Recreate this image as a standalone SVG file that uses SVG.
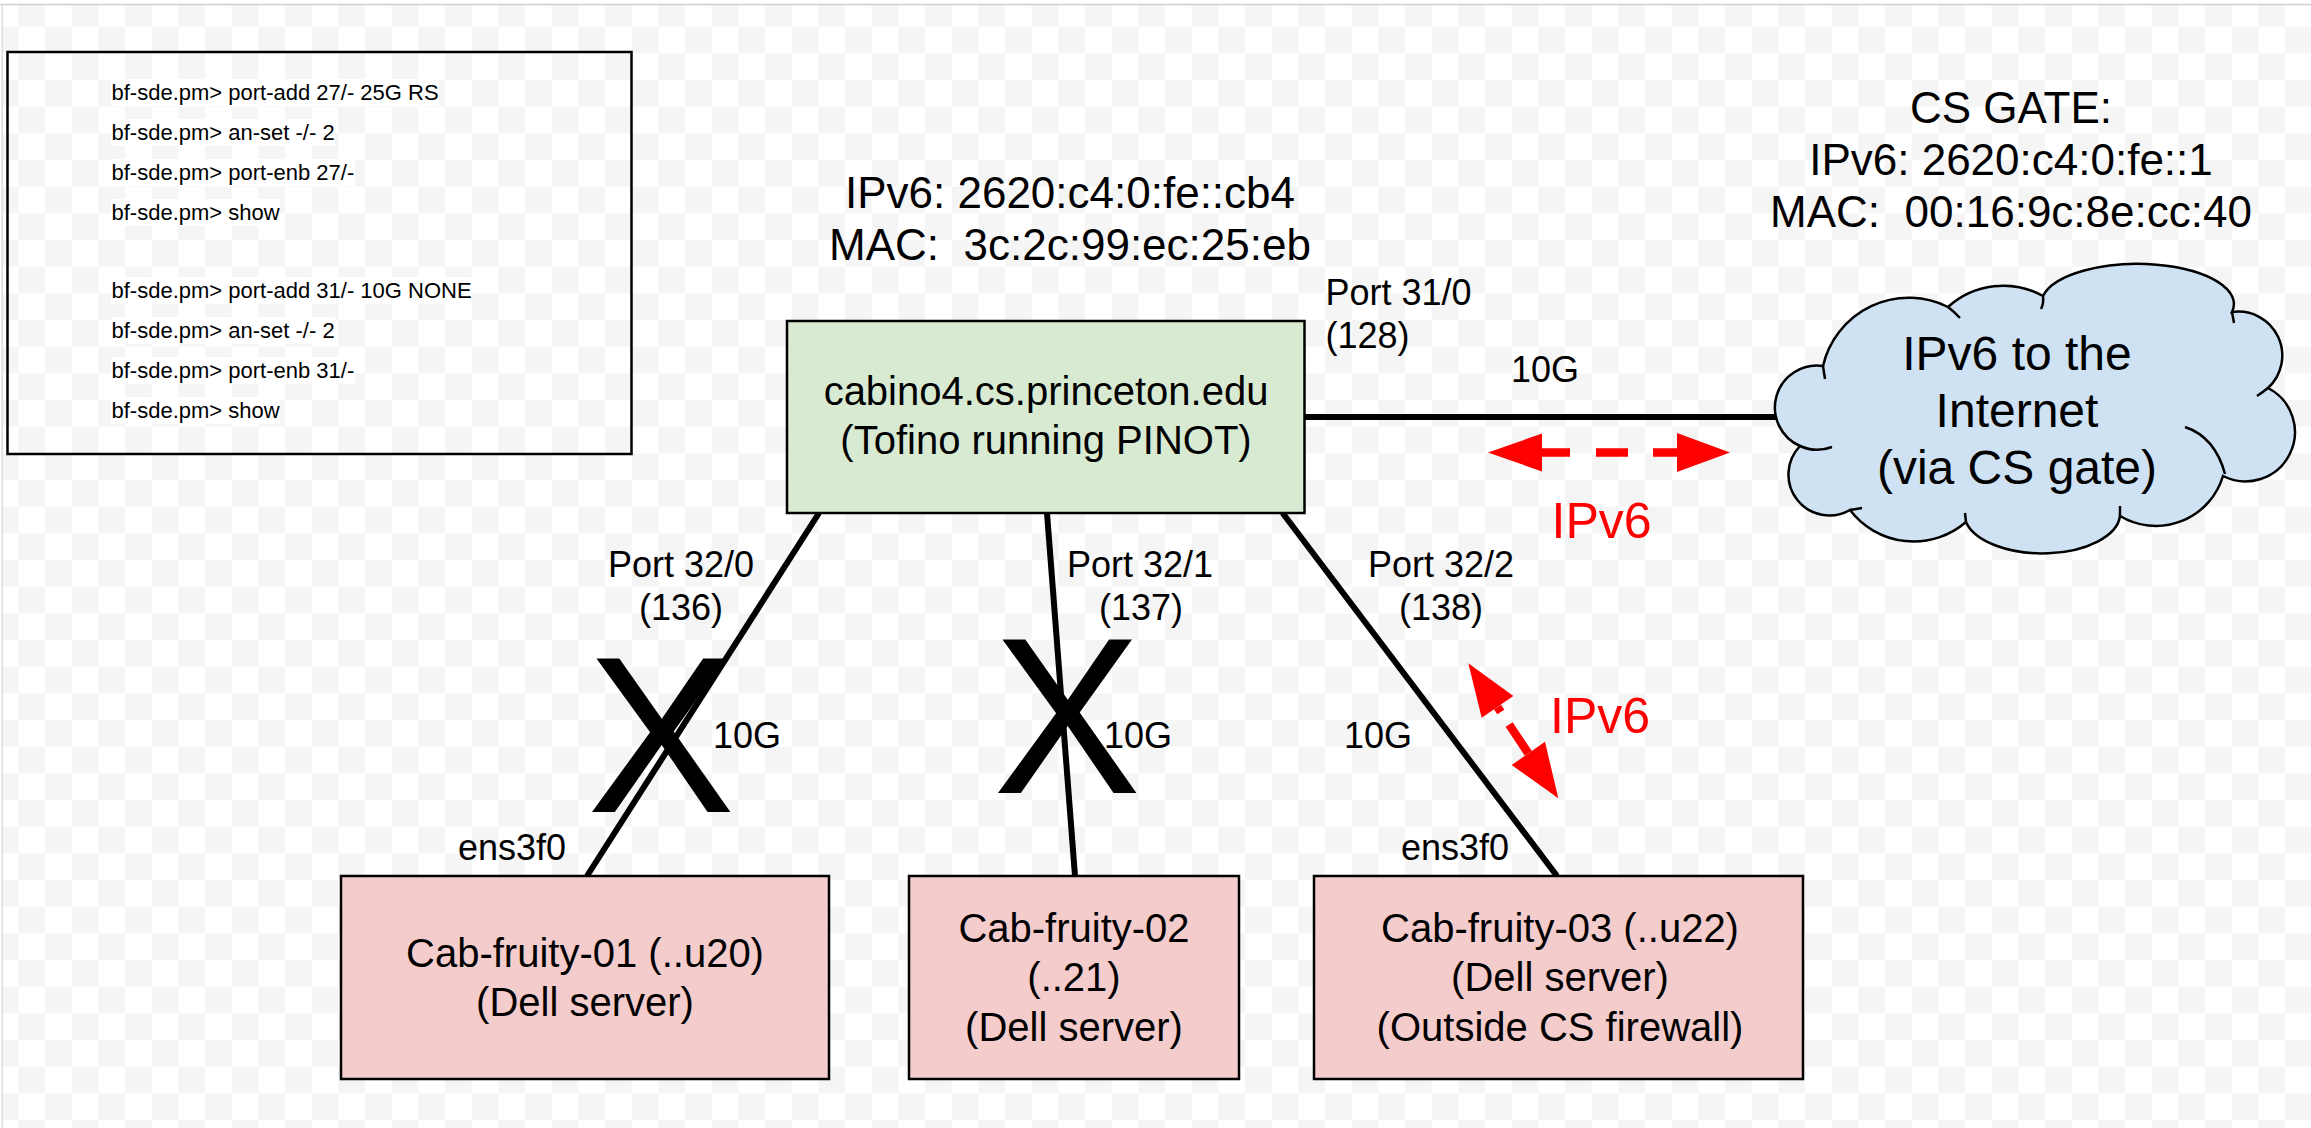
<svg xmlns="http://www.w3.org/2000/svg" width="2311" height="1128" viewBox="0 0 2311 1128">
<defs>
<pattern id="chk" x="18.33" y="0" width="53.333" height="53.333" patternUnits="userSpaceOnUse">
<rect width="53.333" height="53.333" fill="#ffffff"/>
<rect width="26.667" height="26.667" fill="#f5f5f5"/>
<rect x="26.667" y="26.667" width="26.667" height="26.667" fill="#f5f5f5"/>
</pattern>
<style>
text{font-family:"Liberation Sans",Arial,Helvetica,sans-serif;fill:#000}
.cmd{font-size:22px}
.hl{fill:#ffffff}
.lbl{font-size:36px}
.mid{text-anchor:middle}
.node{stroke:#000;stroke-width:2.5}
.big{font-size:40px;text-anchor:middle}
.info{font-size:44px;text-anchor:middle}
.cloudtxt{font-size:48px;text-anchor:middle}
.link{stroke:#000;stroke-width:6;fill:none}
.red{fill:#ff0000}
.redline{stroke:#ff0000;stroke-width:8.5;fill:none}
.redtxt{font-size:50px;fill:#ff0000}
.xmark{font-size:222px;text-anchor:middle}
.cl{fill:none;stroke:#000;stroke-width:2.5}
</style>
</defs>

<!-- background -->
<rect x="0" y="0" width="2311" height="1128" fill="#ffffff"/>
<rect x="3" y="5" width="2308" height="1123" fill="url(#chk)"/>
<line x1="0" y1="4.5" x2="2311" y2="4.5" stroke="#cfcfcf" stroke-width="1.5"/>
<line x1="2.2" y1="4.5" x2="2.2" y2="1128" stroke="#dcdcdc" stroke-width="1.5"/>

<!-- connectors -->
<g id="connectors">
<line class="link" x1="819" y1="513" x2="587" y2="876"/>
<line class="link" x1="1047" y1="513" x2="1075" y2="876"/>
<line class="link" x1="1282.6" y1="513" x2="1557" y2="876"/>
<line class="link" x1="1304.5" y1="417" x2="1778" y2="417"/>
</g>

<!-- command notes -->
<g id="commands">
<rect x="7.5" y="52" width="624" height="402" fill="none" stroke="#000" stroke-width="2.5"/>
<rect class="hl" x="111" y="79" width="328" height="27"/>
<rect class="hl" x="111" y="119" width="224" height="27"/>
<rect class="hl" x="111" y="159" width="244" height="27"/>
<rect class="hl" x="111" y="199" width="169" height="27"/>
<rect class="hl" x="111" y="277" width="361" height="27"/>
<rect class="hl" x="111" y="317" width="224" height="27"/>
<rect class="hl" x="111" y="357" width="244" height="27"/>
<rect class="hl" x="111" y="397" width="169" height="27"/>
<text class="cmd" x="111.5" y="100">bf-sde.pm&gt; port-add 27/- 25G RS</text>
<text class="cmd" x="111.5" y="140">bf-sde.pm&gt; an-set -/- 2</text>
<text class="cmd" x="111.5" y="180">bf-sde.pm&gt; port-enb 27/-</text>
<text class="cmd" x="111.5" y="220">bf-sde.pm&gt; show</text>
<text class="cmd" x="111.5" y="298">bf-sde.pm&gt; port-add 31/- 10G NONE</text>
<text class="cmd" x="111.5" y="338">bf-sde.pm&gt; an-set -/- 2</text>
<text class="cmd" x="111.5" y="378">bf-sde.pm&gt; port-enb 31/-</text>
<text class="cmd" x="111.5" y="418">bf-sde.pm&gt; show</text>
</g>

<!-- switch -->
<g id="switch-info">
<text class="info" x="1070" y="208">IPv6: 2620:c4:0:fe::cb4</text>
<text class="info" x="1070" y="260" xml:space="preserve">MAC:  3c:2c:99:ec:25:eb</text>
</g>
<g id="switch">
<rect class="node" x="787" y="321" width="517.5" height="192" fill="#d9ead3"/>
<text class="big" x="1046" y="405">cabino4.cs.princeton.edu</text>
<text class="big" x="1046" y="454">(Tofino running PINOT)</text>
</g>

<!-- CS gate info -->
<g id="gate-info">
<text class="info" x="2011" y="122.7">CS GATE:</text>
<text class="info" x="2011" y="175">IPv6: 2620:c4:0:fe::1</text>
<text class="info" x="2011" y="226.7" xml:space="preserve">MAC:  00:16:9c:8e:cc:40</text>
</g>

<!-- cloud -->
<g id="internet">
<path d="M1800,446 A42 42 0 0 1 1823,366 A88 88 0 0 1 1948,307 A82 82 0 0 1 2043,296 A96 40 0 0 1 2232,312 A44 44 0 0 1 2268,388 A49 49 0 0 1 2223,476 A70 70 0 0 1 2120,516 A78 40 0 0 1 1966,522 A80 80 0 0 1 1850,510 A41 41 0 0 1 1800,446 Z" fill="#cfe2f3" stroke="#000" stroke-width="2.5"/>
<path class="cl" d="M1800,446 A42 42 0 0 0 1832,447"/>
<path class="cl" d="M1823,366 L1825,379"/>
<path class="cl" d="M1948,307 A88 88 0 0 1 1960,318"/>
<path class="cl" d="M2043,296 Q2044,303 2041,309"/>
<path class="cl" d="M2232,312 L2234,323"/>
<path class="cl" d="M2268,388 Q2263,392 2257,396"/>
<path class="cl" d="M2185,427 Q2215,437 2225,474"/>
<path class="cl" d="M2120,516 L2120,506"/>
<path class="cl" d="M1966,522 L1965,513"/>
<path class="cl" d="M1850,510 L1862,508"/>
<text class="cloudtxt" x="2017" y="370">IPv6 to the</text>
<text class="cloudtxt" x="2017" y="427">Internet</text>
<text class="cloudtxt" x="2017" y="484">(via CS gate)</text>
</g>

<!-- servers -->
<g id="server1">
<rect class="node" x="341" y="876" width="488" height="203" fill="#f4cccc"/>
<text class="big" x="585" y="966.5">Cab-fruity-01 (..u20)</text>
<text class="big" x="585" y="1016">(Dell server)</text>
</g>
<g id="server2">
<rect class="node" x="909" y="876" width="330" height="203" fill="#f4cccc"/>
<text class="big" x="1074" y="941.5">Cab-fruity-02</text>
<text class="big" x="1074" y="991">(..21)</text>
<text class="big" x="1074" y="1040.5">(Dell server)</text>
</g>
<g id="server3">
<rect class="node" x="1314" y="876" width="489" height="203" fill="#f4cccc"/>
<text class="big" x="1560" y="941.5">Cab-fruity-03 (..u22)</text>
<text class="big" x="1560" y="991">(Dell server)</text>
<text class="big" x="1560" y="1040.5">(Outside CS firewall)</text>
</g>

<!-- link labels -->
<g id="labels">
<text class="lbl" x="1325.5" y="305">Port 31/0</text>
<text class="lbl" x="1325.5" y="348">(128)</text>
<text class="lbl" x="1511" y="382">10G</text>
<text class="lbl mid" x="681" y="577">Port 32/0</text>
<text class="lbl mid" x="681" y="620">(136)</text>
<text class="lbl mid" x="1140" y="577">Port 32/1</text>
<text class="lbl mid" x="1141" y="620">(137)</text>
<text class="lbl mid" x="1441" y="577">Port 32/2</text>
<text class="lbl mid" x="1441" y="620">(138)</text>
<text class="lbl" x="713" y="748">10G</text>
<text class="lbl" x="1104" y="748">10G</text>
<text class="lbl" x="1344" y="748">10G</text>
<text class="lbl" x="458" y="860">ens3f0</text>
<text class="lbl" x="1401" y="860">ens3f0</text>
</g>

<!-- disabled link marks -->
<g id="x-marks">
<text class="xmark" x="661" y="812">X</text>
<text class="xmark" x="1067" y="793">X</text>
</g>

<!-- IPv6 traffic arrows -->
<g id="ipv6-arrows">
<line class="redline" x1="1542" y1="452.5" x2="1677" y2="452.5" stroke-dasharray="28 26 32 25 24"/>
<polygon class="red" points="1488,452.5 1542,433.5 1542,471.5"/>
<polygon class="red" points="1730,452.5 1677,433 1677,472"/>
<text class="redtxt" x="1551.5" y="538">IPv6</text>
<line class="redline" x1="1497.5" y1="707" x2="1528.3" y2="753.3" stroke-dasharray="6 15 40"/>
<polygon class="red" points="1468.3,663.3 1481.7,717.7 1513.3,696"/>
<polygon class="red" points="1558.3,798.3 1511.7,765 1545,741.7"/>
<text class="redtxt" x="1550" y="733">IPv6</text>
</g>
</svg>
